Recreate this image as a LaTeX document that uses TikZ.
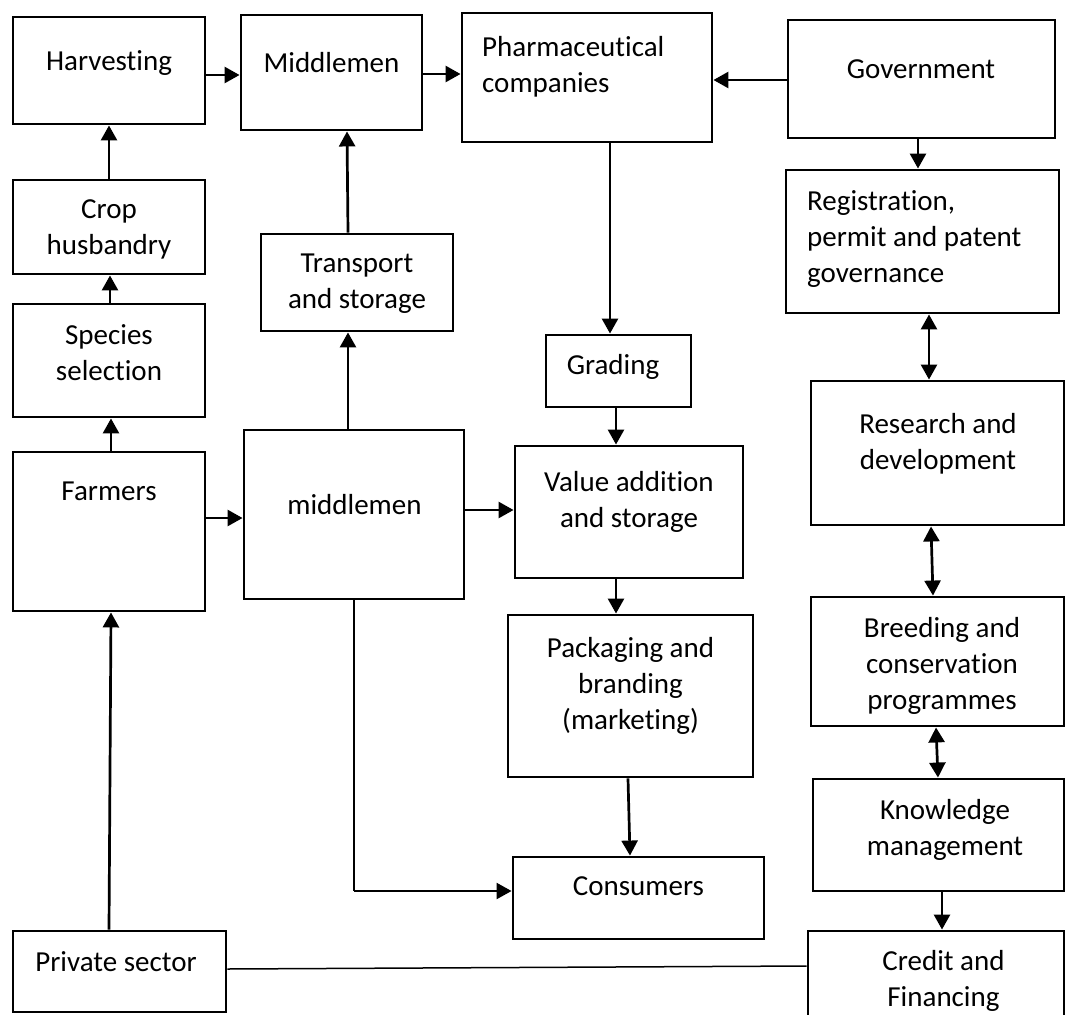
\documentclass[tikz,border=0pt]{standalone}
\usepackage{fontspec}
\setmainfont{Carlito}[Ligatures=NoCommon]
\usetikzlibrary{arrows.meta}
\begin{document}
\begin{tikzpicture}[x=1pt,y=-1pt,
  box/.style={draw, line width=2.9pt, inner sep=0pt, rectangle},
  txt/.style={inner sep=0pt, align=center, font=\fontsize{29pt}{36pt}\selectfont},
  ltxt/.style={txt, align=left, anchor=north west},
  tip/.style={-{Triangle[length=15pt,width=16pt]}},
  arr/.style={line width=2.7pt, tip},
  darr/.style={line width=2.7pt, {Triangle[length=15pt,width=16pt]}-{Triangle[length=15pt,width=16pt]}},
  thinline/.style={line width=1.5pt}
]
\useasboundingbox (0,0) rectangle (1066,1015);

% boxes
\node[box, minimum width=192, minimum height=107] (harv)    at (109,70.5) {};
\node[box, minimum width=181, minimum height=115] (mid)     at (331.5,72.5) {};
\node[box, minimum width=250, minimum height=129] (pharma)  at (587,77.5) {};
\node[box, minimum width=267, minimum height=118] (gov)     at (921.5,79) {};
\node[box, minimum width=192, minimum height=94]  (crop)    at (109,227) {};
\node[box, minimum width=192, minimum height=113] (species) at (109,360.5) {};
\node[box, minimum width=192, minimum height=97]  (trans)   at (357,282.5) {};
\node[box, minimum width=273, minimum height=143] (reg)     at (922.5,241.5) {};
\node[box, minimum width=145, minimum height=72]  (grad)    at (618.5,371) {};
\node[box, minimum width=253, minimum height=144] (res)     at (937.5,453) {};
\node[box, minimum width=192, minimum height=159] (farm)    at (109,531.5) {};
\node[box, minimum width=220, minimum height=169] (mid2)    at (354,514.5) {};
\node[box, minimum width=228, minimum height=132] (val)     at (629,512) {};
\node[box, minimum width=245, minimum height=162] (pack)    at (630.5,696) {};
\node[box, minimum width=253, minimum height=129] (breed)   at (937.5,661.5) {};
\node[box, minimum width=251, minimum height=112] (know)    at (938.5,835) {};
\node[box, minimum width=251, minimum height=82]  (cons)    at (638.5,898) {};
\node[box, minimum width=213, minimum height=81]  (priv)    at (119.5,971.5) {};
\begin{scope}
\clip (0,0) rectangle (1066,1015);
\node[box, minimum width=256, minimum height=114] (cred)    at (936,988) {};
\end{scope}

% texts
\node[txt, anchor=north] (harvT)    at (109,50) {Harvesting};
\node[txt, anchor=north] (midT)     at (331.5,52) {Middlemen};
\node[ltxt] (pharmaT) at (482,36) {Pharmaceutical\\companies};
\node[txt, anchor=north] (govT)     at (921,59) {Government};
\node[txt, anchor=north] (cropT)    at (109,199) {Crop\\husbandry};
\node[txt, anchor=north] (speciesT) at (109,324) {Species\\selection};
\node[txt, anchor=north] (transT)   at (357,254) {Transport\\and storage};
\node[ltxt] (regT) at (807,190) {Registration,\\permit and patent\\governance};
\node[txt, anchor=north] (gradT)    at (613,354) {Grading};
\node[txt, anchor=north] (resT)     at (938,413) {Research and\\development};
\node[txt, anchor=north] (farmT)    at (109,482) {Farmers};
\node[txt, anchor=north] (mid2T)    at (354.5,494) {middlemen};
\node[txt, anchor=north] (valT)     at (629,471) {Value addition\\and storage};
\node[txt, anchor=north] (packT)    at (630.5,637) {Packaging and\\branding\\(marketing)};
\node[txt, anchor=north] (breedT)   at (942,617) {Breeding and\\conservation\\programmes};
\node[txt, anchor=north] (knowT)    at (945,799) {Knowledge\\management};
\node[txt, anchor=north] (consT)    at (638.5,876) {Consumers};
\node[txt, anchor=north] (privT)    at (116,951) {Private sector};
\node[txt, anchor=north] (credT)    at (943.5,950) {Credit and\\Financing};

% connectors
\draw[arr] (harv.east |- 0,75) -- (mid.west |- 0,75);
\draw[arr] (mid.east |- 0,74) -- (pharma.west |- 0,74);
\draw[arr] (gov.west |- 0,80) -- (pharma.east |- 0,80);
\draw[arr] (pharma.south -| 610,0) -- (grad.north -| 610,0);
\draw[arr] (gov.south -| 918,0) -- (reg.north -| 918,0);
\draw[darr] (reg.south -| 929,0) -- (res.north -| 929,0);
\draw[darr] (res.south -| 931,0) -- (breed.north -| 933,0);
\draw[darr] (breed.south -| 936,0) -- (know.north -| 938,0);
\draw[arr] (know.south -| 942,0) -- (cred.north -| 942,0);
\draw[arr] (crop.north) -- (harv.south);
\draw[arr] (species.north -| 110,0) -- (crop.south -| 110,0);
\draw[arr] (farm.north -| 111,0) -- (species.south -| 111,0);
\draw[arr] (priv.north -| 109,0) -- (farm.south -| 111,0);
\draw[arr] (trans.north -| 348,0) -- (mid.south -| 347,0);
\draw[arr] (mid2.north -| 348,0) -- (trans.south -| 348,0);
\draw[arr] (farm.east |- 0,518) -- (mid2.west |- 0,518);
\draw[arr] (mid2.east |- 0,510) -- (val.west |- 0,510);
\draw[arr] (grad.south -| 616,0) -- (val.north -| 616,0);
\draw[arr] (val.south -| 616,0) -- (pack.north -| 616,0);
\draw[arr] (pack.south -| 628,0) -- (cons.north -| 630,0);
\coordinate (mc) at (354,891);
\draw[thinline] (mid2.south -| mc) -- (mc);
\draw[line width=2.2pt, tip] (mc) -- (cons.west |- mc);
\draw[thinline] (priv.east |- 0,969) -- (cred.west |- 0,966);
\end{tikzpicture}
\end{document}
